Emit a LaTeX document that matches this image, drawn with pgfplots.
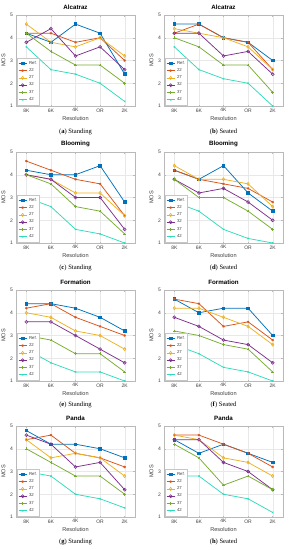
\documentclass[border=0pt]{standalone}
\usepackage{fontspec}
\setmainfont{Liberation Sans}
\newfontfamily\capfont{Liberation Serif}
\usepackage{pgfplots}
\pgfplotsset{compat=1.18}
\usepackage{pgfplotstable}
\definecolor{cref}{rgb}{0,0.447,0.741}
\definecolor{c22}{rgb}{0.85,0.325,0.098}
\definecolor{c27}{rgb}{0.929,0.694,0.125}
\definecolor{c32}{rgb}{0.494,0.184,0.556}
\definecolor{c37}{rgb}{0.466,0.674,0.188}
\definecolor{c42}{rgb}{0.18,0.86,0.74}

% columns: x ref q22 q27 q32 q37 q42
\pgfplotstableread{
x ref q22 q27 q32 q37 q42
0 4.2 4.2 4.6 3.8 4.2 3.6
1 3.8 4.2 3.8 4.4 3.4 2.6
2 4.6 3.8 3.6 3.2 2.8 2.4
3 4.2 4.0 4.0 3.6 2.8 2.0
4 2.4 3.0 3.2 2.6 2.0 1.2
}\tA
\pgfplotstableread{
x ref q22 q27 q32 q37 q42
0 4.6 4.2 4.4 4.2 4.0 3.6
1 4.6 4.6 4.2 4.2 3.6 2.6
2 4.0 4.0 4.0 3.2 2.8 2.2
3 3.8 3.8 3.6 3.4 2.8 2.0
4 3.0 2.6 2.6 2.4 1.6 1.0
}\tB
\pgfplotstableread{
x ref q22 q27 q32 q37 q42
0 4.2 4.6 4.0 4.0 4.0 3.0
1 4.0 4.2 3.8 3.8 3.6 2.6
2 4.0 3.8 3.2 3.0 2.6 1.6
3 4.4 3.6 3.2 3.0 2.4 1.4
4 2.8 2.2 2.2 1.6 1.4 1.0
}\tC
\pgfplotstableread{
x ref q22 q27 q32 q37 q42
0 4.2 4.2 4.4 3.8 3.8 2.8
1 3.8 3.8 3.8 3.2 3.0 2.4
2 4.4 3.6 3.8 3.4 3.0 1.6
3 3.2 3.4 3.6 2.8 2.4 1.2
4 2.4 2.8 2.6 2.0 1.6 1.0
}\tD
\pgfplotstableread{
x ref q22 q27 q32 q37 q42
0 4.4 4.2 4.0 3.6 3.0 2.4
1 4.4 4.4 3.8 3.6 2.8 1.8
2 4.2 3.8 3.2 3.0 2.2 1.4
3 3.8 3.4 3.0 2.4 2.2 1.4
4 3.2 3.0 2.4 1.8 1.4 1.0
}\tE
\pgfplotstableread{
x ref q22 q27 q32 q37 q42
0 4.6 4.6 4.2 3.8 3.2 2.6
1 4.0 4.4 4.2 3.4 3.0 2.2
2 4.2 3.4 3.8 2.8 2.6 1.6
3 4.2 3.6 3.4 2.6 2.4 1.4
4 3.0 2.8 2.6 1.8 1.4 1.0
}\tF
\pgfplotstableread{
x ref q22 q27 q32 q37 q42
0 4.8 4.4 4.4 4.6 4.0 3.0
1 4.2 4.6 3.6 4.2 3.4 2.8
2 4.2 3.8 3.8 3.2 2.8 2.0
3 4.0 3.6 3.6 3.4 2.8 1.8
4 3.6 3.2 2.8 2.2 2.0 1.4
}\tG
\pgfplotstableread{
x ref q22 q27 q32 q37 q42
0 4.4 4.6 4.6 4.4 4.2 2.8
1 3.8 4.6 4.4 4.4 3.6 2.8
2 4.2 4.2 3.6 3.4 2.4 2.0
3 3.8 3.8 3.4 3.0 2.8 1.8
4 3.4 3.2 2.8 2.2 2.2 1.2
}\tH

\pgfplotsset{
  mos/.style={
    width=119pt, height=91pt, scale only axis,
    xmin=-0.42, xmax=4.42, ymin=1, ymax=5,
    xtick={0,1,2,3,4}, xticklabels={8K,6K,4K,OR,2K},
    ytick={1,2,3,4,5},
    grid=major, grid style={gray!18, line width=0.3pt},
    axis line style={gray!55, line width=0.4pt},
    tick align=inside, major tick length=1.5pt,
    tick style={gray!55, line width=0.4pt},
    /pgf/number format/assume math mode=true,
    ticklabel style={font=\fontsize{5}{5.5}\selectfont, text=black!75},
    xticklabel style={yshift=1pt},
    yticklabel style={xshift=0.5pt},
    label style={font=\fontsize{5.6}{6}\selectfont, text=black!75},
    xlabel=Resolution, ylabel=MOS,
    xlabel style={yshift=3pt}, ylabel style={yshift=-2pt},
    title style={font=\bfseries\fontsize{6.2}{7}\selectfont, yshift=-4pt},
    legend style={at={(0.012,0.012)}, anchor=south west,
      font=\fontsize{4.3}{4.6}\selectfont, text=black!75,
      row sep=-1.2pt, inner sep=0.7pt, draw=gray!45, fill=white,
      line width=0.3pt},
    legend cell align=left,
    legend image code/.code={\draw[mark repeat=2,mark phase=2,#1]
      plot coordinates {(0pt,0pt)(4pt,0pt)(8pt,0pt)};},
    every axis plot/.append style={line width=0.75pt, mark size=1.3pt},
  }
}

\newcommand\panel[4]{%
  \begin{axis}[mos, at={(#1,#2)}, anchor=south west, title={#3}]
    \addplot[cref, mark=square*] table[x=x,y=ref]{#4};
    \addplot[c22, mark=asterisk, mark options={line width=0.5pt}] table[x=x,y=q22]{#4};
    \addplot[c27, mark=diamond, mark options={line width=0.6pt, mark size=1.6pt}] table[x=x,y=q27]{#4};
    \addplot[c32, mark=o, mark options={line width=0.6pt, mark size=1.5pt}] table[x=x,y=q32]{#4};
    \addplot[c37, mark=+, mark options={line width=0.5pt}] table[x=x,y=q37]{#4};
    \addplot[c42, mark=x, mark options={line width=0.5pt, mark size=1pt}] table[x=x,y=q42]{#4};
    \legend{Ref.,22,27,32,37,42}
  \end{axis}}

\newcommand\subcap[3]{\node[font=\capfont\fontsize{6.6}{7}\selectfont] at (#1,#2) {#3};}

\begin{document}
\begin{tikzpicture}
\useasboundingbox (0pt,0pt) rectangle (298pt,-550pt);
\panel{16pt}{-106pt}{Alcatraz}{\tA}
\panel{164pt}{-106pt}{Alcatraz}{\tB}
\panel{16pt}{-243pt}{Blooming}{\tC}
\panel{164pt}{-243pt}{Blooming}{\tD}
\panel{16pt}{-381pt}{Formation}{\tE}
\panel{164pt}{-381pt}{Formation}{\tF}
\panel{16pt}{-517pt}{Panda}{\tG}
\panel{164pt}{-517pt}{Panda}{\tH}
\subcap{75.5pt}{-132pt}{(\textbf{a}) Standing}
\subcap{223.5pt}{-132pt}{(\textbf{b}) Seated}
\subcap{75.5pt}{-268pt}{(\textbf{c}) Standing}
\subcap{223.5pt}{-268pt}{(\textbf{d}) Seated}
\subcap{75.5pt}{-405pt}{(\textbf{e}) Standing}
\subcap{223.5pt}{-405pt}{(\textbf{f}) Seated}
\subcap{75.5pt}{-542pt}{(\textbf{g}) Standing}
\subcap{223.5pt}{-542pt}{(\textbf{h}) Seated}
\end{tikzpicture}
\end{document}
